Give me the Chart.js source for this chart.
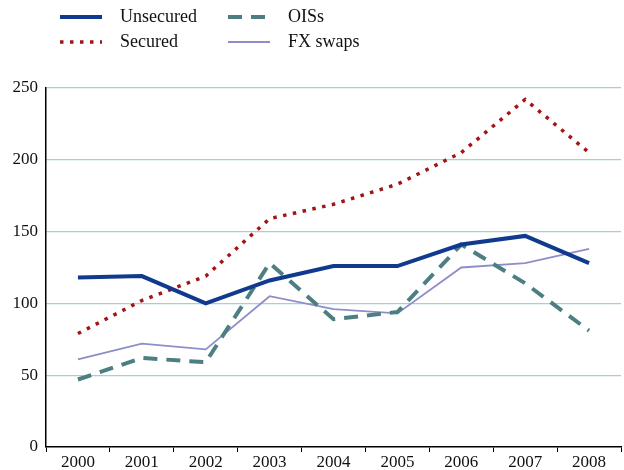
<!DOCTYPE html>
<html>
<head>
<meta charset="utf-8">
<script src="https://cdn.jsdelivr.net/npm/chart.js@4"></script>
<style>
  html, body { margin: 0; padding: 0; background: #fff; }
  #wrap { width: 624px; height: 470px; }
</style>
</head>
<body>
<div id="wrap"><canvas id="rateChart"></canvas></div>
<script>
// Years on the x axis
const years = ["2000", "2001", "2002", "2003", "2004", "2005", "2006", "2007", "2008"];

// Series values
const unsecured = [118, 119, 100, 116, 126, 126, 141, 147, 128];
const secured = [79, 102, 119, 159, 169, 183, 205, 242, 205];
const ois = [47, 62, 59, 128, 89, 94, 141, 114, 81];
const fxSwaps = [61, 72, 68, 105, 96, 93, 125, 128, 138];

const yTicks = [0, 50, 100, 150, 200, 250];

const serif = "'Liberation Serif', 'DejaVu Serif', serif";

// Legend in two columns above the plot, drawn from the dataset styles
const legendPlugin = {
    id: "twoColLegend",
    afterDraw(chart) {
        const ctx = chart.ctx;
        const slots = [
            { x: 60, y: 17 }, // Unsecured
            { x: 60, y: 42 }, // Secured
            { x: 228, y: 17 }, // OISs
            { x: 228, y: 42 }, // FX swaps
        ];
        chart.data.datasets.forEach((ds, i) => {
            const s = slots[i];
            ctx.save();
            ctx.strokeStyle = ds.borderColor;
            ctx.lineWidth = ds.borderWidth;
            ctx.setLineDash(ds.borderDash || []);
            ctx.beginPath();
            ctx.moveTo(s.x, s.y);
            ctx.lineTo(s.x + 42, s.y);
            ctx.stroke();
            ctx.setLineDash([]);
            ctx.fillStyle = "#111";
            ctx.font = "18px " + serif;
            ctx.textBaseline = "middle";
            ctx.fillText(ds.label, s.x + 60, s.y);
            ctx.restore();
        });
    },
};

const config = {
    type: "line",
    data: {
        labels: years,
        datasets: [
            {
                label: "Unsecured",
                data: unsecured,
                borderColor: "#0f3a8e",
                borderWidth: 4,
            },
            {
                label: "Secured",
                data: secured,
                borderColor: "#a31515",
                borderWidth: 3.5,
                borderDash: [3.5, 6.5],
            },
            {
                label: "OISs",
                data: ois,
                borderColor: "#4c7e82",
                borderWidth: 4,
                borderDash: [14, 9],
            },
            {
                label: "FX swaps",
                data: fxSwaps,
                borderColor: "#8d8dc9",
                borderWidth: 1.8,
            },
        ],
    },
    options: {
        responsive: false,
        animation: false,
        devicePixelRatio: 1,
        layout: { padding: { top: 88, right: 3, left: 0, bottom: 0 } },
        elements: {
            point: { radius: 0 },
            line: { tension: 0, borderCapStyle: "butt", borderJoinStyle: "miter" },
        },
        plugins: {
            legend: { display: false },
            tooltip: { enabled: false },
        },
        scales: {
            x: {
                offset: true,
                grid: {
                    offset: true,
                    drawOnChartArea: false,
                    drawTicks: true,
                    tickLength: 5,
                    color: "#000",
                },
                border: { display: true, color: "#000", width: 1.5 },
                ticks: {
                    color: "#111",
                    font: { family: serif, size: 17 },
                    padding: 0,
                    maxRotation: 0,
                },
                afterFit(scale) { scale.height = 23; },
            },
            y: {
                min: 0,
                max: 250,
                afterBuildTicks(scale) {
                    scale.ticks = yTicks.map((v) => ({ value: v }));
                },
                grid: {
                    color: (c) => (c.tick && c.tick.value === 0 ? "rgba(0,0,0,0)" : "#a9cfd4"),
                    lineWidth: 1.3,
                    drawTicks: false,
                },
                border: { display: true, color: "#000", width: 1.5 },
                ticks: {
                    color: "#111",
                    font: { family: serif, size: 17 },
                    padding: 8,
                },
                afterFit(scale) { scale.width = 46; },
            },
        },
    },
    plugins: [legendPlugin],
};

const canvas = document.getElementById("rateChart");
canvas.width = 624;
canvas.height = 470;
const rateChart = new Chart(canvas.getContext("2d"), config);
</script>
</body>
</html>
